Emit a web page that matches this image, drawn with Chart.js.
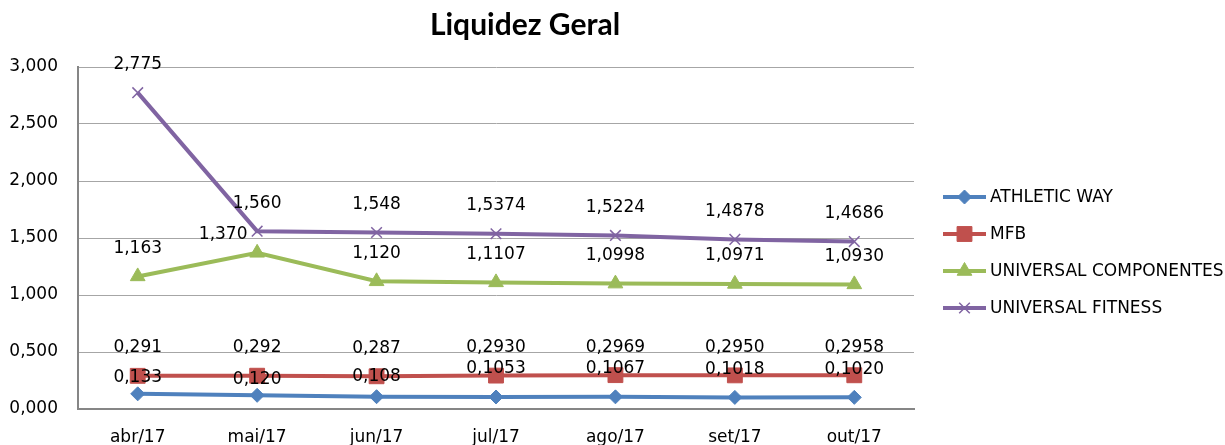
<!DOCTYPE html>
<html lang="pt">
<head>
<meta charset="utf-8">
<title>Liquidez Geral</title>
<script src="https://cdn.jsdelivr.net/npm/chart.js@4.4.1/dist/chart.umd.min.js"></script>
<style>
  html, body { margin: 0; padding: 0; background: #fff; }
  #grafico { width: 1225px; height: 445px; }
</style>
</head>
<body>
<div id="grafico"><canvas id="graficoLiquidez"></canvas></div>
<script>
// --- Dados ---
const meses = ["abr/17", "mai/17", "jun/17", "jul/17", "ago/17", "set/17", "out/17"];
const athleticWay = [0.133, 0.120, 0.108, 0.1053, 0.1067, 0.1018, 0.1020];
const mfb = [0.291, 0.292, 0.287, 0.2930, 0.2969, 0.2950, 0.2958];
const universalComponentes = [1.163, 1.370, 1.120, 1.1107, 1.0998, 1.0971, 1.0930];
const universalFitness = [2.775, 1.560, 1.548, 1.5374, 1.5224, 1.4878, 1.4686];
const casasDecimais = [3, 3, 3, 4, 4, 4, 4];
const ticksEixoY = [0, 0.5, 1, 1.5, 2, 2.5, 3];

const fonte = "'DejaVu Sans', sans-serif";
const formatar = (v, casas) => v.toFixed(casas).replace(".", ",");

// --- Rótulos de dados acima dos pontos ---
const rotulosDados = {
  id: "rotulosDados",
  afterDatasetsDraw(chart) {
    const ctx = chart.ctx;
    ctx.save();
    ctx.font = "17px " + fonte;
    ctx.fillStyle = "#000";
    ctx.textAlign = "center";
    ctx.textBaseline = "middle";
    chart.data.datasets.forEach((ds, i) => {
      const meta = chart.getDatasetMeta(i);
      meta.data.forEach((pt, j) => {
        const dy = Array.isArray(ds.rotuloDy) ? ds.rotuloDy[j] : ds.rotuloDy;
        const dx = Array.isArray(ds.rotuloDx) ? ds.rotuloDx[j] : 0;
        ctx.fillText(formatar(ds.data[j], casasDecimais[j]), pt.x + dx, pt.y - dy);
      });
    });
    ctx.restore();
  }
};

// --- Título e legenda ---
const tituloELegenda = {
  id: "tituloELegenda",
  afterDraw(chart) {
    const ctx = chart.ctx;
    ctx.save();
    ctx.fillStyle = "#000";
    ctx.textAlign = "center";
    ctx.textBaseline = "alphabetic";
    ctx.font = "bold 30px Lato, 'DejaVu Sans', sans-serif";
    ctx.fillText("Liquidez Geral", 525, 35);

    ctx.font = "17px " + fonte;
    ctx.textAlign = "left";
    ctx.textBaseline = "middle";
    chart.data.datasets.forEach((ds, i) => {
      const y = 197 + i * 37;
      ctx.strokeStyle = ds.borderColor;
      ctx.lineWidth = 4;
      ctx.beginPath();
      ctx.moveTo(943, y);
      ctx.lineTo(986, y);
      ctx.stroke();
      ctx.fillStyle = ds.pointBackgroundColor;
      ctx.strokeStyle = ds.pointBorderColor;
      ctx.lineWidth = ds.pointBorderWidth;
      Chart.helpers.drawPoint(ctx, {
        pointStyle: ds.pointStyle, radius: ds.pointRadius,
        borderWidth: ds.pointBorderWidth, rotation: 0
      }, 964.5, y);
      ctx.fillStyle = "#000";
      ctx.fillText(ds.label, 990, y + 1);
    });
    ctx.restore();
  }
};

function serie(label, data, cor, estilo, raio, bordaPonto, dy, dx) {
  return {
    label, data,
    borderColor: cor,
    backgroundColor: cor,
    borderWidth: 4,
    tension: 0,
    pointStyle: estilo,
    pointRadius: raio,
    pointHoverRadius: raio,
    pointBackgroundColor: cor,
    pointBorderColor: cor,
    pointBorderWidth: bordaPonto,
    rotuloDy: dy,
    rotuloDx: dx
  };
}

new Chart(document.getElementById("graficoLiquidez"), {
  type: "line",
  data: {
    labels: meses,
    datasets: [
      serie("ATHLETIC WAY", athleticWay, "#4F81BD", "rectRot", 7, 1, [16, 16, 20, 28, 28, 28, 28]),
      serie("MFB", mfb, "#C0504D", "rect", 10.5, 1, 28),
      serie("UNIVERSAL COMPONENTES", universalComponentes, "#9BBB59", "triangle", 8.5, 1,
        [28, 18, 28, 28, 28, 28, 28], [0, -34, 0, 0, 0, 0, 0]),
      serie("UNIVERSAL FITNESS", universalFitness, "#8064A2", "crossRot", 7.5, 1.5, 28)
    ]
  },
  options: {
    responsive: true,
    maintainAspectRatio: false,
    animation: false,
    layout: { autoPadding: false, padding: { top: 67, right: 311, bottom: 0, left: 0 } },
    plugins: {
      legend: { display: false },
      title: { display: false },
      tooltip: { enabled: false }
    },
    scales: {
      x: {
        offset: true,
        grid: { display: false, drawTicks: false },
        border: { display: true, color: "#868686", width: 2 },
        ticks: { color: "#000", padding: 18, font: { size: 17, family: fonte } },
        afterFit(scale) { scale.height = 36; }
      },
      y: {
        min: 0,
        max: 3,
        afterBuildTicks(scale) { scale.ticks = ticksEixoY.map(v => ({ value: v })); },
        grid: { color: "#A6A6A6", lineWidth: 1, drawTicks: false },
        border: { display: true, color: "#868686", width: 2 },
        ticks: {
          color: "#000", padding: 20, font: { size: 17, family: fonte },
          callback: v => formatar(v, 3)
        },
        afterFit(scale) { scale.width = 78; }
      }
    }
  },
  plugins: [rotulosDados, tituloELegenda]
});
</script>
</body>
</html>
